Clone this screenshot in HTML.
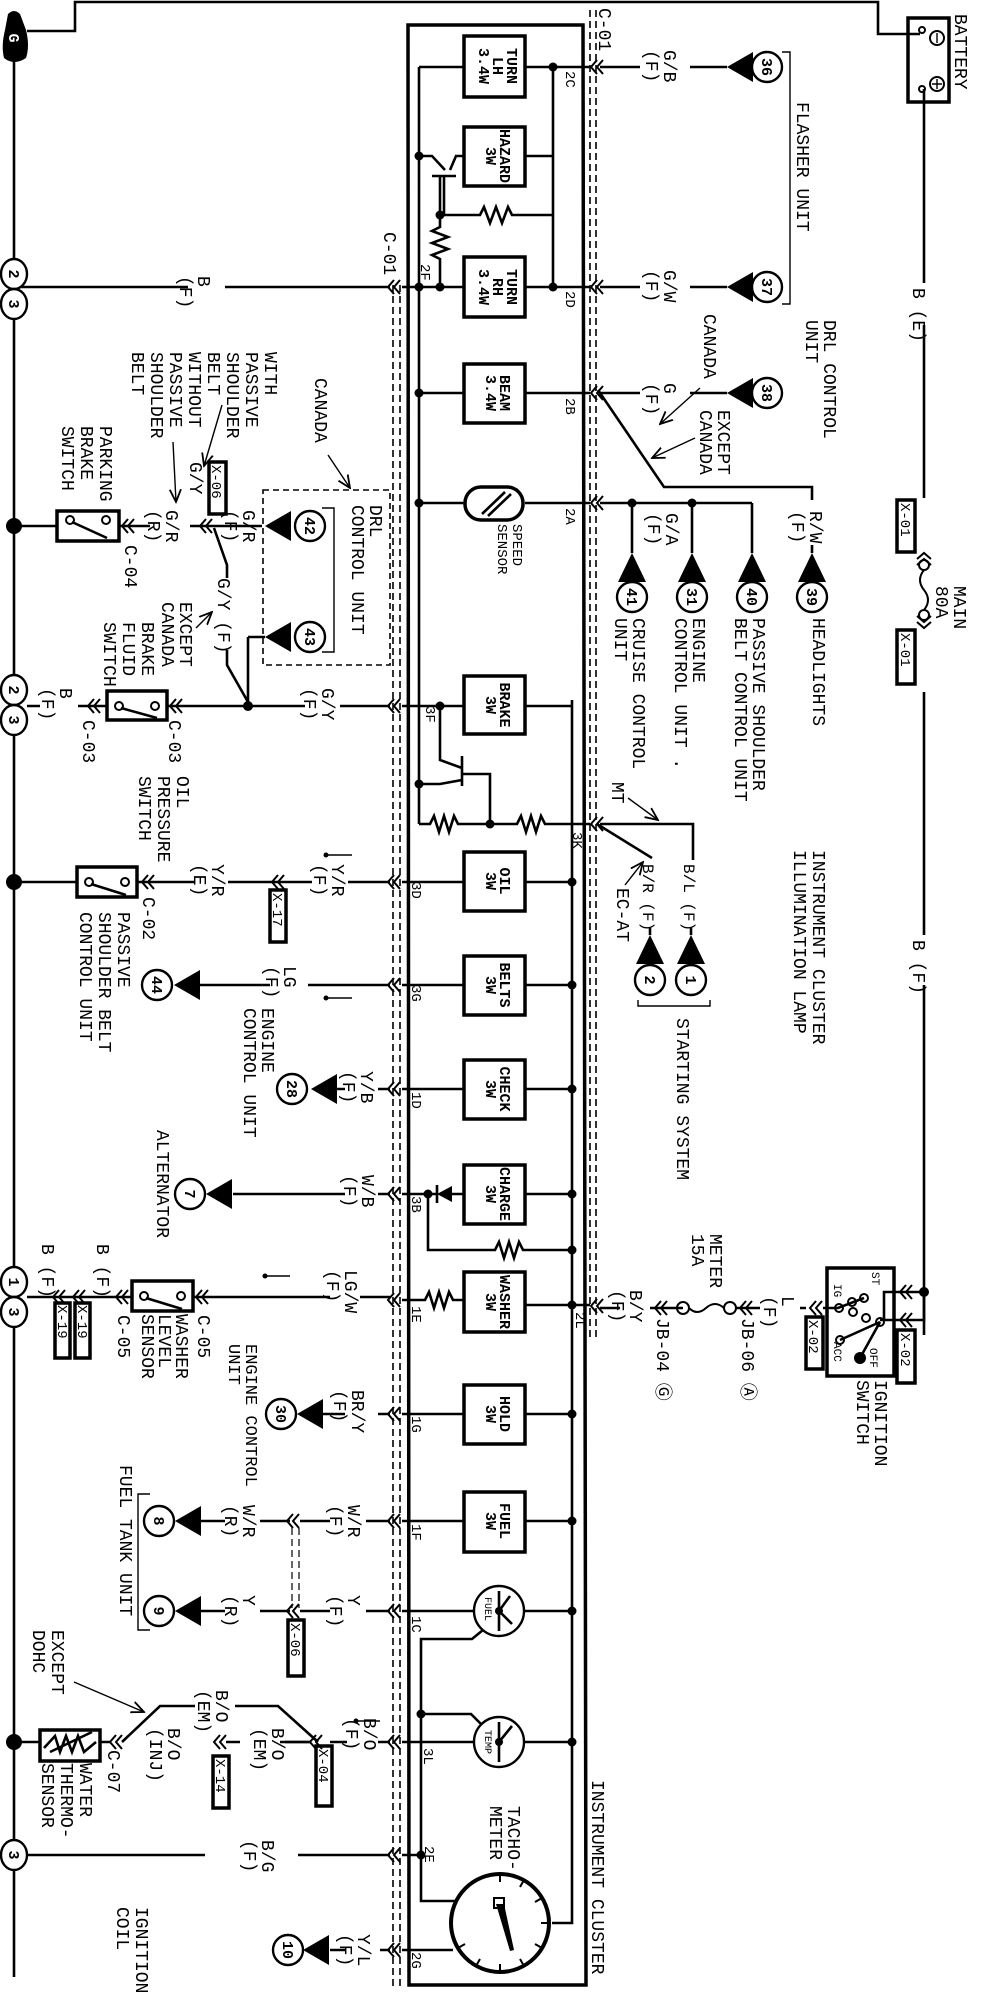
<!DOCTYPE html>
<html><head><meta charset="utf-8"><style>
html,body{margin:0;padding:0;background:#fff;}
svg{display:block;}
text{font-family:"Liberation Mono","DejaVu Sans Mono",monospace;fill:#000;}
.t{font-size:18px;}
.s{font-size:15px;font-weight:bold;}
.n{font-size:15px;font-weight:bold;}
.p{font-size:14px;}
.w{stroke:#000;stroke-width:2.6;fill:none;}
.th{stroke:#000;stroke-width:3.5;fill:none;}
.bx{stroke:#000;stroke-width:3.5;fill:#fff;}
.d{stroke:#000;stroke-width:1.6;fill:none;stroke-dasharray:7 4;}
.c{stroke:#000;stroke-width:2;fill:none;}
.a{stroke:#000;stroke-width:1.4;fill:none;}
.f{fill:#000;stroke:none;}
.ci{stroke:#000;stroke-width:2.4;fill:#fff;}
</style></head><body>
<svg width="992" height="2000" viewBox="0 0 992 2000" xmlns="http://www.w3.org/2000/svg">
<defs>
<g id="ch"><path d="M6 -7 L0 0 L6 7 M12 -7 L6 0 L12 7" stroke="#000" stroke-width="2" fill="none"/></g>
<g id="dot"><circle r="4.5" fill="#000"/></g>
<g id="tri"><path d="M0 0 L26 -15 L26 15 Z" fill="#000"/></g>
<g id="triu"><path d="M0 0 L-14 29 L14 29 Z" fill="#000"/></g>
<marker id="ar" markerWidth="10" markerHeight="10" refX="9" refY="5" orient="auto"><path d="M0 1 L9 5 L0 9" fill="none" stroke="#000" stroke-width="1.3"/></marker>
</defs>

<!-- top ground / battery wire -->
<path class="w" d="M14 50 L14 1977"/>
<path class="w" d="M27 31 L75 31 L75 2 L878 2 L878 34 L920 34"/>
<path class="f" d="M8 14 Q14 8 20 14 L26 30 Q30 46 26 58 Q14 66 4 58 Q1 46 5 30 Z"/>
<text class="n" transform="translate(9,38) rotate(90)" text-anchor="middle" style="fill:#fff">G</text>

<!-- battery -->
<rect class="th" x="908" y="18" width="41" height="84" fill="#fff"/>
<circle cx="922" cy="30" r="3" class="c"/><circle cx="922" cy="89" r="3" class="c"/>
<circle cx="937" cy="38" r="7" class="c"/><circle cx="937" cy="84" r="7" class="c"/>
<path class="a" d="M937 33 L937 43 M932 84 L942 84 M937 79 L937 89"/>
<text class="t" transform="translate(955,14) rotate(90)">BATTERY</text>

<!-- right vertical feed -->
<path class="w" d="M924 89 L924 283 M924 325 L924 498 M924 692 L924 935 M924 985 L924 1335"/>
<text class="t" transform="translate(913,288) rotate(90)">B (E)</text>
<text class="t" transform="translate(913,940) rotate(90)">B (F)</text>
<rect class="th" x="897" y="500" width="18" height="52" fill="#fff"/>
<text class="p" transform="translate(901,503) rotate(90)">X-01</text>
<rect class="th" x="897" y="630" width="18" height="54" fill="#fff"/>
<text class="p" transform="translate(901,633) rotate(90)">X-01</text>
<use href="#ch" transform="translate(924,553) rotate(90)"/>
<use href="#ch" transform="translate(924,628) rotate(-90)"/>
<circle cx="924" cy="565" r="5" class="c"/><circle cx="924" cy="615" r="5" class="c"/>
<path class="c" d="M924 570 Q916 580 924 590 Q932 600 924 610"/>
<text class="t" transform="translate(954,586) rotate(90)">MAIN<tspan x="0" dy="18">80A</tspan></text>

<!-- cluster box -->
<path class="th" d="M408 25 L583 25 L586 1985 L409 1985 Z"/>
<path class="d" d="M590 10 L590 1340 M596 10 L596 1340"/>
<path class="d" d="M393 285 L393 1990 M400 285 L400 1990"/>
<text class="t" transform="translate(599,8) rotate(90)">C-01</text>
<text class="t" transform="translate(384,232) rotate(90)">C-01</text>
<path class="w" d="M419 67 L419 824"/>
<path class="w" d="M572 700 L572 1923 L552 1923"/>

<!-- flasher section -->
<path class="w" d="M419 67 L464 67 M525 67 L553 67 L553 287 M525 156 L553 156"/>
<path class="w" d="M553 67 L590 67 M600 67 L640 67 M690 67 L727 67"/>
<use href="#dot" x="553" y="67"/><use href="#dot" x="553" y="287"/>
<path class="w" d="M419 156 L432 156 L445 170 M450 170 L456 156 L464 156 M432 176 L456 176 M444 176 L444 215 L445 215"/>
<use href="#dot" x="419" y="156"/><use href="#dot" x="440" y="215"/>
<path class="w" d="M440 176 L440 215 L480 215 L484 207 L490 223 L496 207 L502 223 L508 207 L512 215 L553 215"/>
<path class="w" d="M440 215 L440 227 L432 231 L448 237 L432 243 L448 249 L432 255 L440 259 L440 287"/>
<path class="w" d="M14 287 L188 287 M225 287 L390 287 M402 287 L464 287 M525 287 L590 287 M600 287 L640 287 M690 287 L727 287"/>
<use href="#dot" x="419" y="287"/><use href="#dot" x="440" y="287"/>
<use href="#ch" x="388" y="287"/><use href="#ch" x="591" y="287"/><use href="#ch" x="591" y="67"/>
<rect class="bx" x="464" y="36" width="61" height="61"/>
<text class="s" transform="translate(507,66) rotate(90)" text-anchor="middle">TURN<tspan x="0" dy="14">LH</tspan><tspan x="0" dy="14">3.4W</tspan></text>
<rect class="bx" x="464" y="127" width="61" height="59"/>
<text class="s" transform="translate(500,156) rotate(90)" text-anchor="middle">HAZARD<tspan x="0" dy="14">3W</tspan></text>
<rect class="bx" x="464" y="257" width="61" height="60"/>
<text class="s" transform="translate(507,287) rotate(90)" text-anchor="middle">TURN<tspan x="0" dy="14">RH</tspan><tspan x="0" dy="14">3.4W</tspan></text>
<text class="p" transform="translate(566,71) rotate(90)">2C</text>
<text class="p" transform="translate(566,291) rotate(90)">2D</text>
<text class="p" transform="translate(421,264) rotate(90)">2F</text>
<text class="t" transform="translate(198,276) rotate(90)">B<tspan x="0" dy="18">(F)</tspan></text>
<text class="t" transform="translate(664,50) rotate(90)">G/B<tspan x="0" dy="18">(F)</tspan></text>
<text class="t" transform="translate(664,270) rotate(90)">G/W<tspan x="0" dy="18">(F)</tspan></text>
<use href="#tri" x="727" y="67"/><use href="#tri" x="727" y="287"/>
<circle class="ci" cx="767" cy="67" r="15"/><text class="n" transform="translate(762,67) rotate(90)" text-anchor="middle">36</text>
<circle class="ci" cx="767" cy="287" r="15"/><text class="n" transform="translate(762,287) rotate(90)" text-anchor="middle">37</text>
<path class="a" d="M782 52 L790 52 L790 304 L782 304"/>
<text class="t" transform="translate(797,102) rotate(90)">FLASHER UNIT</text>

<!-- beam -->
<path class="w" d="M419 393 L464 393 M525 393 L590 393 M600 393 L640 393 M690 393 L727 393"/>
<use href="#dot" x="419" y="393"/><use href="#ch" x="591" y="393"/>
<rect class="bx" x="464" y="364" width="61" height="59"/>
<text class="s" transform="translate(500,393) rotate(90)" text-anchor="middle">BEAM<tspan x="0" dy="14">3.4W</tspan></text>
<text class="p" transform="translate(566,398) rotate(90)">2B</text>
<text class="t" transform="translate(664,383) rotate(90)">G<tspan x="0" dy="18">(F)</tspan></text>
<use href="#tri" x="727" y="393"/>
<circle class="ci" cx="767" cy="393" r="15"/><text class="n" transform="translate(762,393) rotate(90)" text-anchor="middle">38</text>
<path class="w" d="M598 390 L664 487 L812 487 L812 500"/>
<text class="t" transform="translate(810,511) rotate(90)">R/W<tspan x="0" dy="18">(F)</tspan></text>
<text class="t" transform="translate(704,314) rotate(90)">CANADA</text>
<path class="a" d="M700 388 L660 424" marker-end="url(#ar)"/>
<text class="t" transform="translate(718,410) rotate(90)">EXCEPT<tspan x="0" dy="18">CANADA</tspan></text>
<path class="a" d="M695 438 L652 458" marker-end="url(#ar)"/>
<text class="t" transform="translate(824,320) rotate(90)">DRL CONTROL<tspan x="0" dy="18">UNIT</tspan></text>

<!-- speed -->
<path class="w" d="M419 503 L464 503 M525 503 L590 503 M600 503 L752 503 M632 503 L632 553 M692 503 L692 553 M752 503 L752 553 M812 553 L812 545"/>
<use href="#dot" x="419" y="503"/><use href="#dot" x="632" y="503"/><use href="#dot" x="692" y="503"/>
<use href="#ch" x="591" y="503"/>
<rect class="bx" x="465" y="487" width="58" height="33" rx="16"/>
<path class="w" d="M482 514 L505 492 M488 516 L511 494"/>
<text class="p" transform="translate(513,524) rotate(90)">SPEED<tspan x="0" dy="15">SENSOR</tspan></text>
<text class="p" transform="translate(566,508) rotate(90)">2A</text>
<text class="t" transform="translate(666,513) rotate(90)">G/A<tspan x="0" dy="18">(F)</tspan></text>
<use href="#triu" x="632" y="553"/><use href="#triu" x="692" y="553"/><use href="#triu" x="752" y="553"/><use href="#triu" x="812" y="553"/>
<circle class="ci" cx="632" cy="597" r="15"/><text class="n" transform="translate(627,597) rotate(90)" text-anchor="middle">41</text>
<circle class="ci" cx="692" cy="597" r="15"/><text class="n" transform="translate(687,597) rotate(90)" text-anchor="middle">31</text>
<circle class="ci" cx="752" cy="597" r="15"/><text class="n" transform="translate(747,597) rotate(90)" text-anchor="middle">40</text>
<circle class="ci" cx="812" cy="597" r="15"/><text class="n" transform="translate(807,597) rotate(90)" text-anchor="middle">39</text>
<text class="t" transform="translate(813,618) rotate(90)">HEADLIGHTS</text>
<text class="t" transform="translate(753,618) rotate(90)">PASSIVE SHOULDER<tspan x="0" dy="18">BELT CONTROL UNIT</tspan></text>
<text class="t" transform="translate(693,618) rotate(90)">ENGINE<tspan x="0" dy="18">CONTROL UNIT .</tspan></text>
<text class="t" transform="translate(633,618) rotate(90)">CRUISE CONTROL<tspan x="0" dy="18">UNIT</tspan></text>

<!-- parking brake / DRL -->
<path class="w" d="M14 526 L57 526 M119 526 L150 526 M190 526 L262 526"/>
<circle cx="14" cy="526" r="8" class="f"/>
<rect class="th" x="57" y="511" width="62" height="30" fill="#fff"/>
<circle cx="70" cy="520" r="4" class="c" fill="#fff"/><circle cx="106" cy="520" r="4" class="c" fill="#fff"/>
<path class="w" d="M72 522 L107 538"/>
<use href="#ch" x="122" y="526"/><use href="#ch" x="200" y="526"/>
<text class="t" transform="translate(166,510) rotate(90)">G/R<tspan x="0" dy="18">(R)</tspan></text>
<text class="t" transform="translate(243,510) rotate(90)">G/R<tspan x="0" dy="18">(F)</tspan></text>
<text class="t" transform="translate(125,545) rotate(90)">C-04</text>
<rect class="th" x="209" y="462" width="17" height="52" fill="#fff"/>
<text class="p" transform="translate(212,465) rotate(90)">X-06</text>
<text class="t" transform="translate(190,462) rotate(90)">G/Y</text>
<path class="w" d="M214 528 L227 565 L227 578 M227 650 L227 665 L248 702"/>
<text class="t" transform="translate(218,578) rotate(90)">G/Y (F)</text>
<path class="w" d="M248 637 L265 637 M248 637 L248 706"/>
<use href="#tri" x="265" y="526"/><use href="#tri" x="265" y="637"/>
<circle class="ci" cx="310" cy="526" r="15"/><text class="n" transform="translate(305,526) rotate(90)" text-anchor="middle">42</text>
<circle class="ci" cx="310" cy="637" r="15"/><text class="n" transform="translate(305,637) rotate(90)" text-anchor="middle">43</text>
<rect class="d" x="263" y="490" width="127" height="175" style="stroke-dasharray:6 4"/>
<path class="a" d="M322 508 L334 508 L334 652 L322 652"/>
<text class="t" transform="translate(370,505) rotate(90)">DRL<tspan x="0" dy="18">CONTROL UNIT</tspan></text>
<text class="t" transform="translate(315,378) rotate(90)">CANADA</text>
<path class="a" d="M328 455 L350 488" marker-end="url(#ar)"/>
<text class="t" transform="translate(265,352) rotate(90)">WITH<tspan x="0" dy="19">PASSIVE</tspan><tspan x="0" dy="19">SHOULDER</tspan><tspan x="0" dy="19">BELT</tspan></text>
<path class="a" d="M222 405 L204 466" marker-end="url(#ar)"/>
<text class="t" transform="translate(189,352) rotate(90)">WITHOUT<tspan x="0" dy="19">PASSIVE</tspan><tspan x="0" dy="19">SHOULDER</tspan><tspan x="0" dy="19">BELT</tspan></text>
<path class="a" d="M173 442 L176 502" marker-end="url(#ar)"/>
<text class="t" transform="translate(100,426) rotate(90)">PARKING<tspan x="0" dy="19">BRAKE</tspan><tspan x="0" dy="19">SWITCH</tspan></text>
<text class="t" transform="translate(180,602) rotate(90)">EXCEPT<tspan x="0" dy="18">CANADA</tspan></text>
<path class="a" d="M196 628 L212 612" marker-end="url(#ar)"/>
<text class="t" transform="translate(142,622) rotate(90)">BRAKE<tspan x="0" dy="19">FLUID</tspan><tspan x="0" dy="19">SWITCH</tspan></text>

<!-- brake row -->
<ellipse class="ci" cx="14" cy="274" rx="13" ry="15"/><text class="n" transform="translate(9,274) rotate(90)" text-anchor="middle">2</text>
<ellipse class="ci" cx="14" cy="304" rx="13" ry="15"/><text class="n" transform="translate(9,304) rotate(90)" text-anchor="middle">3</text>
<ellipse class="ci" cx="14" cy="690" rx="13" ry="15"/><text class="n" transform="translate(9,690) rotate(90)" text-anchor="middle">2</text>
<ellipse class="ci" cx="14" cy="720" rx="13" ry="15"/><text class="n" transform="translate(9,720) rotate(90)" text-anchor="middle">3</text>
<path class="w" d="M27 706 L40 706 M78 706 L107 706 M167 706 L305 706 M340 706 L390 706 M402 706 L464 706 M525 706 L572 706"/>
<text class="t" transform="translate(60,688) rotate(90)">B<tspan x="0" dy="18">(F)</tspan></text>
<use href="#ch" x="88" y="706"/><use href="#ch" x="170" y="706"/><use href="#ch" x="388" y="706"/>
<rect class="th" x="107" y="691" width="60" height="29" fill="#fff"/>
<circle cx="119" cy="706" r="4" class="c" fill="#fff"/><circle cx="155" cy="706" r="4" class="c" fill="#fff"/>
<path class="w" d="M121 708 L157 718"/>
<circle cx="248" cy="706" r="5" class="f"/>
<text class="t" transform="translate(322,688) rotate(90)">G/Y<tspan x="0" dy="18">(F)</tspan></text>
<text class="t" transform="translate(169,720) rotate(90)">C-03</text>
<text class="t" transform="translate(83,720) rotate(90)">C-03</text>
<rect class="bx" x="464" y="676" width="61" height="58"/>
<text class="s" transform="translate(500,705) rotate(90)" text-anchor="middle">BRAKE<tspan x="0" dy="14">3W</tspan></text>
<text class="p" transform="translate(426,706) rotate(90)">3F</text>
<text class="t" transform="translate(177,776) rotate(90)">OIL<tspan x="0" dy="19">PRESSURE</tspan><tspan x="0" dy="19">SWITCH</tspan></text>

<!-- transistor / resistor row -->
<path class="w" d="M440 706 L440 760 L462 768 M462 756 L462 786 M462 774 L490 774 L490 824 M462 780 L440 784 L419 784"/>
<use href="#dot" x="440" y="706"/><use href="#dot" x="419" y="784"/><use href="#dot" x="490" y="824"/>
<path class="w" d="M419 824 L430 824 L434 816 L439 832 L444 816 L449 832 L454 816 L458 824 L517 824 L521 816 L526 832 L531 816 L536 832 L541 816 L545 824 L590 824 M600 824 L693 824 L693 860"/>
<use href="#ch" x="591" y="824"/>
<path class="w" d="M597 824 L652 858"/>
<text class="p" transform="translate(573,832) rotate(90)">3K</text>
<text class="t" style="font-size:16px" transform="translate(684,864) rotate(90)">B/L (F)</text>
<text class="t" style="font-size:16px" transform="translate(643,864) rotate(90)">B/R (F)</text>
<path class="w" d="M691 928 L691 935 M650 928 L650 935"/>
<use href="#triu" x="691" y="935"/><use href="#triu" x="650" y="935"/>
<circle class="ci" cx="691" cy="980" r="15"/><text class="n" transform="translate(686,980) rotate(90)" text-anchor="middle">1</text>
<circle class="ci" cx="650" cy="980" r="15"/><text class="n" transform="translate(645,980) rotate(90)" text-anchor="middle">2</text>
<path class="a" d="M638 1000 L638 1006 L710 1006 L710 1000"/>
<text class="t" transform="translate(677,1018) rotate(90)">STARTING SYSTEM</text>
<text class="t" transform="translate(612,782) rotate(90)">MT</text>
<path class="a" d="M628 798 L658 820" marker-end="url(#ar)"/>
<text class="t" transform="translate(617,888) rotate(90)">EC-AT</text>
<path class="a" d="M625 885 L643 862" marker-end="url(#ar)"/>
<text class="t" transform="translate(813,850) rotate(90)">INSTRUMENT CLUSTER<tspan x="0" dy="19">ILLUMINATION LAMP</tspan></text>

<!-- OIL -->
<circle cx="14" cy="882" r="8" class="f"/>
<path class="w" d="M14 882 L77 882 M137 882 L195 882 M228 882 L312 882 M348 882 L390 882 M402 882 L464 882 M525 882 L572 882"/>
<rect class="th" x="77" y="867" width="60" height="30" fill="#fff"/>
<circle cx="89" cy="882" r="4" class="c" fill="#fff"/><circle cx="125" cy="882" r="4" class="c" fill="#fff"/>
<path class="w" d="M91 884 L126 895"/>
<use href="#ch" x="142" y="882"/><use href="#ch" x="272" y="882"/><use href="#ch" x="388" y="882"/>
<text class="t" transform="translate(212,864) rotate(90)">Y/R<tspan x="0" dy="18">(E)</tspan></text>
<text class="t" transform="translate(332,864) rotate(90)">Y/R<tspan x="0" dy="18">(F)</tspan></text>
<path class="a" d="M352 855 L325 855"/><circle cx="326" cy="855" r="2.5" class="f"/>
<rect class="th" x="270" y="890" width="16" height="52" fill="#fff"/>
<text class="p" transform="translate(273,893) rotate(90)">X-17</text>
<text class="t" transform="translate(143,897) rotate(90)">C-02</text>
<text class="t" transform="translate(118,912) rotate(90)">PASSIVE<tspan x="0" dy="19">SHOULDER BELT</tspan><tspan x="0" dy="19">CONTROL UNIT</tspan></text>
<use href="#dot" x="572" y="882"/>
<rect class="bx" x="464" y="852" width="61" height="59"/>
<text class="s" transform="translate(500,881) rotate(90)" text-anchor="middle">OIL<tspan x="0" dy="14">3W</tspan></text>
<text class="p" transform="translate(412,882) rotate(90)">3D</text>

<!-- BELTS -->
<path class="w" d="M200 985 L270 985 M308 985 L390 985 M402 985 L464 985 M525 985 L572 985"/>
<use href="#dot" x="572" y="985"/><use href="#ch" x="388" y="985"/>
<use href="#tri" x="174" y="985"/>
<circle class="ci" cx="157" cy="985" r="15"/><text class="n" transform="translate(152,985) rotate(90)" text-anchor="middle">44</text>
<text class="t" transform="translate(284,966) rotate(90)">LG<tspan x="0" dy="18">(F)</tspan></text>
<path class="a" d="M352 998 L325 998"/><circle cx="326" cy="998" r="2.5" class="f"/>
<text class="t" transform="translate(262,1008) rotate(90)">ENGINE<tspan x="0" dy="18">CONTROL UNIT</tspan></text>
<rect class="bx" x="464" y="956" width="61" height="59"/>
<text class="s" transform="translate(500,985) rotate(90)" text-anchor="middle">BELTS<tspan x="0" dy="14">3W</tspan></text>
<text class="p" transform="translate(412,985) rotate(90)">3G</text>

<!-- CHECK -->
<path class="w" d="M337 1089 L345 1089 M378 1089 L390 1089 M402 1089 L464 1089 M525 1089 L572 1089"/>
<use href="#dot" x="572" y="1089"/><use href="#ch" x="388" y="1089"/>
<use href="#tri" x="311" y="1089"/>
<circle class="ci" cx="292" cy="1089" r="15"/><text class="n" transform="translate(287,1089) rotate(90)" text-anchor="middle">28</text>
<text class="t" transform="translate(361,1071) rotate(90)">Y/B<tspan x="0" dy="18">(F)</tspan></text>
<rect class="bx" x="464" y="1060" width="61" height="59"/>
<text class="s" transform="translate(500,1089) rotate(90)" text-anchor="middle">CHECK<tspan x="0" dy="14">3W</tspan></text>
<text class="p" transform="translate(412,1092) rotate(90)">1D</text>

<!-- CHARGE -->
<path class="w" d="M233 1194 L345 1194 M378 1194 L390 1194 M402 1194 L437 1194 M452 1194 L464 1194 M525 1194 L572 1194"/>
<use href="#ch" x="388" y="1194"/><use href="#dot" x="572" y="1194"/>
<path class="f" d="M437 1194 L452 1186 L452 1202 Z"/><path class="w" d="M437 1185 L437 1203"/>
<use href="#dot" x="428" y="1194"/>
<path class="w" d="M428 1194 L428 1250 L495 1250 L499 1242 L504 1258 L509 1242 L514 1258 L519 1242 L523 1250 L572 1250"/>
<use href="#dot" x="572" y="1250"/>
<use href="#tri" x="206" y="1194"/>
<circle class="ci" cx="190" cy="1194" r="15"/><text class="n" transform="translate(185,1194) rotate(90)" text-anchor="middle">7</text>
<text class="t" transform="translate(157,1130) rotate(90)">ALTERNATOR</text>
<text class="t" transform="translate(362,1175) rotate(90)">W/B<tspan x="0" dy="18">(F)</tspan></text>
<rect class="bx" x="464" y="1165" width="61" height="59"/>
<text class="s" transform="translate(500,1194) rotate(90)" text-anchor="middle">CHARGE<tspan x="0" dy="14">3W</tspan></text>
<text class="p" transform="translate(412,1196) rotate(90)">3B</text>

<!-- WASHER -->
<ellipse class="ci" cx="14" cy="1282" rx="13" ry="15"/><text class="n" transform="translate(9,1282) rotate(90)" text-anchor="middle">1</text>
<ellipse class="ci" cx="14" cy="1312" rx="13" ry="15"/><text class="n" transform="translate(9,1312) rotate(90)" text-anchor="middle">3</text>
<path class="w" d="M27 1297 L132 1297 M193 1297 L330 1297 M360 1297 L390 1297 M402 1300 L425 1300 L429 1292 L434 1308 L439 1292 L444 1308 L449 1292 L453 1300 L464 1300 M525 1305 L590 1305 M600 1308 L620 1308 M650 1308 L683 1308"/>
<use href="#ch" x="53" y="1297"/><use href="#ch" x="73" y="1297"/><use href="#ch" x="116" y="1297"/><use href="#ch" x="196" y="1297"/><use href="#ch" x="388" y="1300"/><use href="#ch" x="591" y="1306"/>
<use href="#dot" x="572" y="1305"/>
<rect class="th" x="55" y="1303" width="15" height="55" fill="#fff"/><text class="p" transform="translate(58,1305) rotate(90)">X-19</text>
<rect class="th" x="75" y="1303" width="15" height="55" fill="#fff"/><text class="p" transform="translate(78,1305) rotate(90)">X-19</text>
<text class="t" transform="translate(42,1244) rotate(90)">B (F)</text>
<text class="t" transform="translate(97,1244) rotate(90)">B (F)</text>
<rect class="th" x="132" y="1281" width="61" height="30" fill="#fff"/>
<circle cx="144" cy="1296" r="4" class="c" fill="#fff"/><circle cx="181" cy="1296" r="4" class="c" fill="#fff"/>
<path class="w" d="M146 1298 L182 1309"/>
<text class="t" transform="translate(118,1315) rotate(90)">C-05</text>
<text class="t" transform="translate(198,1315) rotate(90)">C-05</text>
<text class="t" transform="translate(176,1314) rotate(90)">WASHER<tspan x="0" dy="17">LEVEL</tspan><tspan x="0" dy="17">SENSOR</tspan></text>
<text class="t" transform="translate(345,1270) rotate(90)">LG/W<tspan x="0" dy="18">(F)</tspan></text>
<path class="a" d="M290 1276 L264 1276"/><circle cx="265" cy="1276" r="2.5" class="f"/>
<rect class="bx" x="464" y="1272" width="61" height="60"/>
<text class="s" transform="translate(500,1302) rotate(90)" text-anchor="middle">WASHER<tspan x="0" dy="14">3W</tspan></text>
<text class="p" transform="translate(412,1306) rotate(90)">1E</text>
<text class="p" transform="translate(576,1312) rotate(90)">2L</text>
<text class="t" transform="translate(630,1290) rotate(90)">B/Y<tspan x="0" dy="18">(F)</tspan></text>
<use href="#ch" x="655" y="1308"/>
<circle cx="683" cy="1308" r="6" class="c" fill="#fff"/><circle cx="730" cy="1308" r="6" class="c" fill="#fff"/>
<path class="c" d="M689 1308 Q697 1316 706 1308 Q715 1300 724 1308"/>
<path class="w" d="M736 1308 L760 1308 M800 1308 L806 1308"/>
<use href="#ch" x="740" y="1308"/><use href="#ch" x="810" y="1308"/>
<text class="t" transform="translate(657,1318) rotate(90)">JB-04 Ⓖ</text>
<text class="t" transform="translate(742,1318) rotate(90)">JB-06 Ⓐ</text>
<text class="t" transform="translate(710,1234) rotate(90)">METER<tspan x="0" dy="18">15A</tspan></text>
<text class="t" transform="translate(782,1296) rotate(90)">L<tspan x="0" dy="18">(F)</tspan></text>
<rect class="th" x="806" y="1317" width="17" height="52" fill="#fff"/><text class="p" transform="translate(809,1320) rotate(90)">X-02</text>
<!-- ignition switch -->
<rect class="th" x="827" y="1268" width="67" height="108" fill="#fff"/>
<path class="w" d="M823 1308 L838 1308 L864 1298 M924 1292 L884 1292 L884 1320 L880 1320 M924 1292 L924 1320 L884 1320"/>
<circle cx="924" cy="1292" r="5" class="f"/>
<use href="#ch" x="900" y="1292"/><use href="#ch" x="900" y="1320"/>
<rect class="th" x="897" y="1330" width="18" height="53" fill="#fff"/><text class="p" transform="translate(901,1333) rotate(90)">X-02</text>
<circle cx="839" cy="1308" r="4" class="c" fill="#fff"/><circle cx="852" cy="1302" r="4" class="c" fill="#fff"/>
<circle cx="864" cy="1298" r="4" class="c" fill="#fff"/><circle cx="853" cy="1312" r="4" class="c" fill="#fff"/>
<circle cx="866" cy="1318" r="4" class="c" fill="#fff"/><circle cx="880" cy="1322" r="4" class="c" fill="#fff"/>
<circle cx="840" cy="1340" r="4" class="c" fill="#fff"/><circle cx="860" cy="1358" r="6" class="f"/>
<path class="w" d="M880 1322 L840 1340 M880 1322 L860 1358"/>
<text class="p" style="font-size:11px" transform="translate(872,1272) rotate(90)">ST</text>
<text class="p" style="font-size:11px" transform="translate(834,1284) rotate(90)">IG</text>
<text class="p" style="font-size:11px" transform="translate(834,1342) rotate(90)">ACC</text>
<text class="p" style="font-size:11px" transform="translate(870,1348) rotate(90)">OFF</text>
<text class="t" transform="translate(875,1380) rotate(90)">IGNITION<tspan x="0" dy="18">SWITCH</tspan></text>

<!-- HOLD -->
<path class="w" d="M300 1414 L345 1414 M378 1414 L390 1414 M402 1414 L464 1414 M525 1414 L572 1414"/>
<use href="#dot" x="572" y="1414"/><use href="#ch" x="388" y="1414"/>
<use href="#tri" x="297" y="1414"/>
<circle class="ci" cx="281" cy="1414" r="15"/><text class="n" transform="translate(276,1414) rotate(90)" text-anchor="middle">30</text>
<text class="t" transform="translate(352,1390) rotate(90)">BR/Y<tspan x="0" dy="18">(F)</tspan></text>
<text class="t" style="font-size:17px" transform="translate(246,1344) rotate(90)">ENGINE CONTROL<tspan x="0" dy="17">UNIT</tspan></text>
<rect class="bx" x="464" y="1385" width="61" height="59"/>
<text class="s" transform="translate(500,1414) rotate(90)" text-anchor="middle">HOLD<tspan x="0" dy="14">3W</tspan></text>
<text class="p" transform="translate(412,1416) rotate(90)">1G</text>

<!-- FUEL -->
<path class="w" d="M200 1521 L225 1521 M260 1521 L290 1521 M300 1521 L330 1521 M366 1521 L390 1521 M402 1521 L464 1521 M525 1521 L572 1521"/>
<use href="#dot" x="572" y="1521"/><use href="#ch" x="388" y="1521"/><use href="#ch" x="287" y="1521"/>
<use href="#tri" x="175" y="1521"/>
<circle class="ci" cx="159" cy="1521" r="15"/><text class="n" transform="translate(154,1521) rotate(90)" text-anchor="middle">8</text>
<text class="t" transform="translate(243,1505) rotate(90)">W/R<tspan x="0" dy="18">(R)</tspan></text>
<text class="t" transform="translate(348,1505) rotate(90)">W/R<tspan x="0" dy="18">(F)</tspan></text>
<path class="d" d="M292 1528 L292 1608 M299 1528 L299 1608" style="stroke-width:1.2"/>
<rect class="bx" x="464" y="1492" width="61" height="60"/>
<text class="s" transform="translate(500,1521) rotate(90)" text-anchor="middle">FUEL<tspan x="0" dy="14">3W</tspan></text>
<text class="p" transform="translate(412,1524) rotate(90)">1F</text>
<path class="w" d="M200 1611 L225 1611 M260 1611 L290 1611 M300 1611 L330 1611 M366 1611 L390 1611 M402 1611 L474 1611 M524 1611 L572 1611"/>
<use href="#dot" x="572" y="1611"/><use href="#ch" x="388" y="1611"/><use href="#ch" x="287" y="1611"/>
<use href="#tri" x="175" y="1611"/>
<circle class="ci" cx="159" cy="1611" r="15"/><text class="n" transform="translate(154,1611) rotate(90)" text-anchor="middle">9</text>
<text class="t" transform="translate(243,1595) rotate(90)">Y<tspan x="0" dy="18">(R)</tspan></text>
<text class="t" transform="translate(348,1595) rotate(90)">Y<tspan x="0" dy="18">(F)</tspan></text>
<rect class="th" x="288" y="1620" width="16" height="56" fill="#fff"/><text class="p" transform="translate(291,1623) rotate(90)">X-06</text>
<path class="a" d="M150 1494 L138 1494 L138 1630 L150 1630"/>
<text class="t" transform="translate(120,1465) rotate(90)">FUEL TANK UNIT</text>
<circle class="ci" cx="499" cy="1611" r="25"/>
<path class="w" d="M499 1591 L499 1631 M499 1611 L512 1624 M499 1611 L510 1596"/><circle cx="499" cy="1611" r="4" class="f"/>
<text class="p" style="font-size:10px" transform="translate(485,1597) rotate(90)">FUEL</text>
<text class="p" transform="translate(412,1616) rotate(90)">1C</text>
<path class="w" d="M483 1630 L472 1639 L421 1639 L421 1901 L455 1901"/>
<!-- TEMP -->
<use href="#dot" x="421" y="1714"/>
<path class="w" d="M421 1714 L471 1714 L481 1724"/>
<path class="w" d="M285 1742 L310 1742 M330 1742 L347 1742 M378 1742 L390 1742 M402 1742 L474 1742 M524 1742 L572 1742"/>
<use href="#dot" x="572" y="1742"/><use href="#ch" x="388" y="1742"/>
<circle class="ci" cx="499" cy="1742" r="25"/>
<path class="w" d="M499 1722 L499 1762 M499 1742 L512 1726"/><circle cx="499" cy="1742" r="4" class="f"/>
<text class="p" style="font-size:10px" transform="translate(485,1730) rotate(90)">TEMP</text>
<text class="p" transform="translate(424,1748) rotate(90)">3L</text>
<text class="t" transform="translate(364,1718) rotate(90)">B/O<tspan x="0" dy="18">(F)</tspan></text>
<path class="a" d="M380 1721 L355 1721"/><circle cx="356" cy="1721" r="2.5" class="f"/>
<use href="#ch" x="310" y="1742"/><use href="#ch" x="214" y="1742"/><use href="#ch" x="110" y="1742"/>
<rect class="th" x="316" y="1746" width="16" height="60" fill="#fff"/><text class="p" transform="translate(319,1749) rotate(90)">X-04</text>
<rect class="th" x="213" y="1756" width="16" height="52" fill="#fff"/><text class="p" transform="translate(216,1759) rotate(90)">X-14</text>
<path class="w" d="M226 1742 L240 1742 M280 1742 L310 1742 M122 1742 L160 1706 L195 1706 M235 1706 L278 1706 L318 1742"/>
<text class="t" transform="translate(272,1728) rotate(90)">B/O<tspan x="0" dy="18">(EM)</tspan></text>
<text class="t" transform="translate(216,1690) rotate(90)">B/O<tspan x="0" dy="18">(EM)</tspan></text>
<text class="t" transform="translate(168,1728) rotate(90)">B/O<tspan x="0" dy="18">(INJ)</tspan></text>
<text class="t" transform="translate(108,1750) rotate(90)">C-07</text>
<text class="t" transform="translate(52,1630) rotate(90)">EXCEPT<tspan x="0" dy="19">DOHC</tspan></text>
<path class="a" d="M74 1682 L144 1712" marker-end="url(#ar)"/>
<circle cx="14" cy="1742" r="8" class="f"/>
<path class="w" d="M14 1742 L40 1742 M100 1742 L110 1742"/>
<rect class="th" x="40" y="1730" width="60" height="31" fill="#fff"/>
<path class="w" d="M44 1748 L55 1736 L60 1752 L66 1736 L72 1752 L78 1736 L84 1752 L96 1742 M50 1752 L92 1732"/>
<text class="t" transform="translate(80,1763) rotate(90)">WATER<tspan x="0" dy="19">THERMO-</tspan><tspan x="0" dy="19">SENSOR</tspan></text>

<!-- 2E -->
<ellipse class="ci" cx="14" cy="1855" rx="13" ry="15"/><text class="n" transform="translate(9,1855) rotate(90)" text-anchor="middle">3</text>
<path class="w" d="M27 1855 L205 1855 M298 1855 L390 1855 M402 1855 L421 1855"/>
<use href="#dot" x="421" y="1855"/><use href="#ch" x="388" y="1855"/>
<text class="t" transform="translate(262,1840) rotate(90)">B/G<tspan x="0" dy="18">(F)</tspan></text>
<text class="p" transform="translate(425,1846) rotate(90)">2E</text>
<text class="t" transform="translate(508,1806) rotate(90)">TACHO-<tspan x="0" dy="18">METER</tspan></text>
<text class="t" transform="translate(592,1780) rotate(90)">INSTRUMENT CLUSTER</text>

<!-- tacho / 2G -->
<circle cx="500" cy="1923" r="49" stroke="#000" stroke-width="4" fill="#fff"/>
<path class="a" style="stroke-width:2" d="M500 1874 L500 1882 M524 1880 L520 1887 M542 1898 L535 1902 M549 1923 L541 1923 M542 1948 L535 1944 M524 1966 L520 1959 M500 1972 L500 1964 M476 1966 L480 1959 M458 1948 L465 1944"/>
<path class="f" d="M496 1904 L504 1904 L514 1950 L510 1951 Z"/><rect x="494" y="1898" width="10" height="10" class="c" fill="#fff"/>
<path class="w" d="M330 1950 L345 1950 M380 1950 L390 1950 M402 1950 L453 1950"/>
<use href="#ch" x="388" y="1950"/>
<use href="#tri" x="303" y="1950"/>
<circle class="ci" cx="288" cy="1950" r="15"/><text class="n" transform="translate(283,1950) rotate(90)" text-anchor="middle">10</text>
<text class="t" transform="translate(358,1934) rotate(90)">Y/L<tspan x="0" dy="18">(F)</tspan></text>
<text class="p" transform="translate(412,1952) rotate(90)">2G</text>
<text class="t" transform="translate(136,1907) rotate(90)">IGNITION<tspan x="0" dy="19">COIL</tspan></text>
</svg>
</body></html>
